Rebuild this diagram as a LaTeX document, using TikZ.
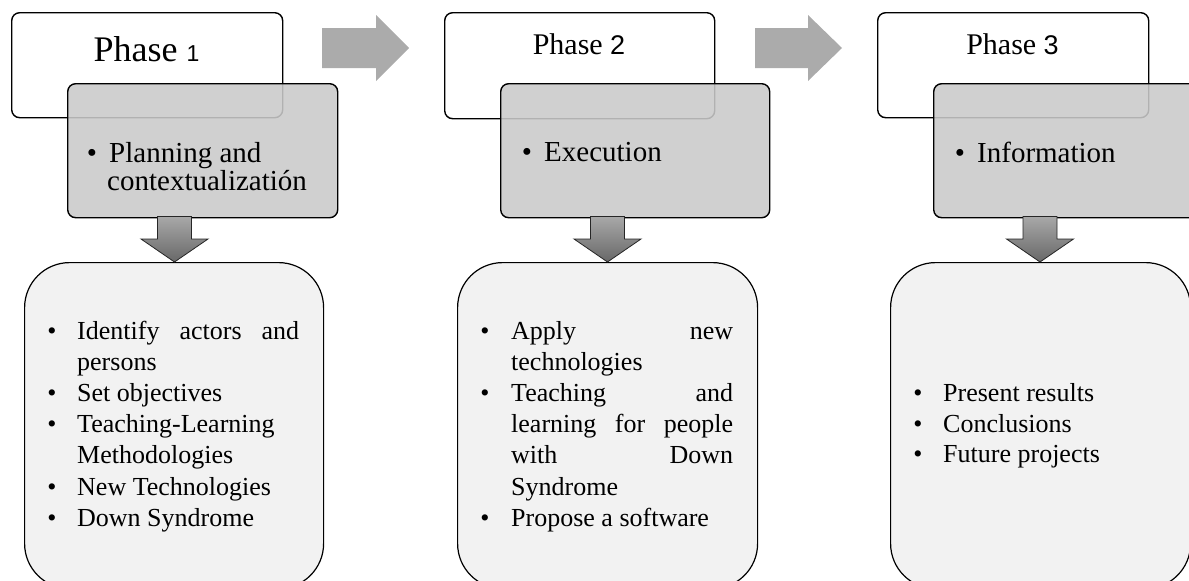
\documentclass[tikz,border=0pt]{standalone}
\usepackage{fontspec}
\setmainfont{Liberation Serif}
\newfontfamily\digitfont{Liberation Sans}
\definecolor{stagegray}{RGB}{202,202,202}
\definecolor{detailgray}{RGB}{242,242,242}
\definecolor{flowgray}{RGB}{171,171,171}
\definecolor{arrowtop}{RGB}{168,168,168}
\definecolor{arrowbot}{RGB}{104,104,104}
\newcommand{\wide}[1]{\makebox[222pt][s]{#1}}
\begin{document}
\begin{tikzpicture}[x=1pt,y=-1pt,
  hdr/.style={draw=black, line width=1.4pt, fill=white, rounded corners=8pt,
    inner sep=0pt, anchor=north west},
  stage/.style={draw=black, line width=1.4pt, fill=stagegray, fill opacity=0.88,
    rounded corners=8pt, inner sep=0pt, anchor=north west},
  detail/.style={draw=black, line width=1.2pt, fill=detailgray, rounded corners=45pt,
    inner sep=0pt, anchor=north west},
  flow/.style={fill=flowgray, draw=none},
  down/.style={top color=arrowtop, bottom color=arrowbot, draw=black!85, line width=0.8pt},
  title/.style={inner sep=0pt, anchor=base},
  stagetxt/.style={inner sep=0pt, anchor=base west, font=\fontsize{29}{29}\selectfont},
  stagedot/.style={inner sep=0pt, anchor=base, font=\fontsize{29}{29}\selectfont},
  lst/.style={font=\fontsize{26}{31}\selectfont, inner sep=0pt, anchor=base west},
  dot/.style={font=\fontsize{26}{31}\selectfont, inner sep=0pt, anchor=base},
]
\useasboundingbox (0,0) rectangle (1189,581);
\clip (0,0) rectangle (1189,581);

% ---------- horizontal flow arrows between phases ----------
\draw[flow] (322,28) -- (376,28) -- (376,15) -- (409,48) -- (376,81) -- (376,68) -- (322,68) -- cycle;
\draw[flow] (755,28) -- (808,28) -- (808,15) -- (842,48) -- (808,81) -- (808,68) -- (755,68) -- cycle;

% ---------- phase headers ----------
\node[hdr, minimum width=271pt, minimum height=105pt] (h1) at (11,12) {};
\node[hdr, minimum width=270pt, minimum height=106pt] (h2) at (444,12) {};
\node[hdr, minimum width=271pt, minimum height=105pt] (h3) at (877,12) {};

\node[title] (t1) at (146.5,61) {\fontsize{36}{36}\selectfont Phase {\digitfont\fontsize{23}{23}\selectfont 1}};
\node[title] (t2) at (579,54) {\fontsize{30}{30}\selectfont Phase {\digitfont\fontsize{27}{27}\selectfont 2}};
\node[title] (t3) at (1012.5,54) {\fontsize{30}{30}\selectfont Phase {\digitfont\fontsize{27}{27}\selectfont 3}};

% ---------- stage boxes ----------
\node[stage, minimum width=270pt, minimum height=134pt] (s1) at (67,83) {};
\node[stage, minimum width=269pt, minimum height=134pt] (s2) at (500,83) {};
\node[stage, minimum width=269pt, minimum height=134pt] (s3) at (933,83) {};

\node[stagedot] (s1b) at (92,162) {•};
\node[stagetxt] (s1a) at (109,162) {Planning and};
\node[stagetxt] (s1c) at (107,190) {contextualizatión};

\node[stagedot] (s2b) at (527,161) {•};
\node[stagetxt] (s2a) at (544,161) {Execution};

\node[stagedot] (s3b) at (960,162) {•};
\node[stagetxt] (s3a) at (977,162) {Information};

% ---------- detail boxes ----------
\node[detail, minimum width=299pt, minimum height=326pt] (d1) at (24,262) {};
\node[detail, minimum width=300pt, minimum height=326pt] (d2) at (457,262) {};
\node[detail, minimum width=300pt, minimum height=326pt] (d3) at (890,262) {};

% phase 1 list
\node[dot] (p1b1) at (52,339) {•};
\node[lst] (p1l1) at (77,339) {\wide{Identify actors and}};
\node[lst] (p1l2) at (77,370.2) {persons};
\node[dot] (p1b2) at (52,401.4) {•};
\node[lst] (p1l3) at (77,401.4) {Set objectives};
\node[dot] (p1b3) at (52,432.6) {•};
\node[lst] (p1l4) at (77,432.6) {Teaching-Learning};
\node[lst] (p1l5) at (77,463.8) {Methodologies};
\node[dot] (p1b4) at (52,495) {•};
\node[lst] (p1l6) at (77,495) {New Technologies};
\node[dot] (p1b5) at (52,526.2) {•};
\node[lst] (p1l7) at (77,526.2) {Down Syndrome};

% phase 2 list
\node[dot] (p2b1) at (485,339) {•};
\node[lst] (p2l1) at (511,339) {\wide{Apply new}};
\node[lst] (p2l2) at (511,370.2) {technologies};
\node[dot] (p2b2) at (485,401.4) {•};
\node[lst] (p2l3) at (511,401.4) {\wide{Teaching and}};
\node[lst] (p2l4) at (511,432.6) {\wide{learning for people}};
\node[lst] (p2l5) at (511,463.8) {\wide{with Down}};
\node[lst] (p2l6) at (511,495) {Syndrome};
\node[dot] (p2b3) at (485,526.2) {•};
\node[lst] (p2l7) at (511,526.2) {Propose a software};

% phase 3 list
\node[dot] (p3b1) at (918,401.5) {•};
\node[lst] (p3l1) at (943,401.5) {Present results};
\node[dot] (p3b2) at (918,432) {•};
\node[lst] (p3l2) at (943,432) {Conclusions};
\node[dot] (p3b3) at (918,462.5) {•};
\node[lst] (p3l3) at (943,462.5) {Future projects};

% ---------- downward arrows from stage to detail ----------
\foreach \n/\c in {1/174.5, 2/607.5, 3/1040} {
  \draw[down] (\c-17,216.5) -- (\c+17,216.5) -- (\c+17,239) -- (\c+33.5,239)
    -- (\c,262) -- (\c-33.5,239) -- (\c-17,239) -- cycle;
}
\end{tikzpicture}
\end{document}
